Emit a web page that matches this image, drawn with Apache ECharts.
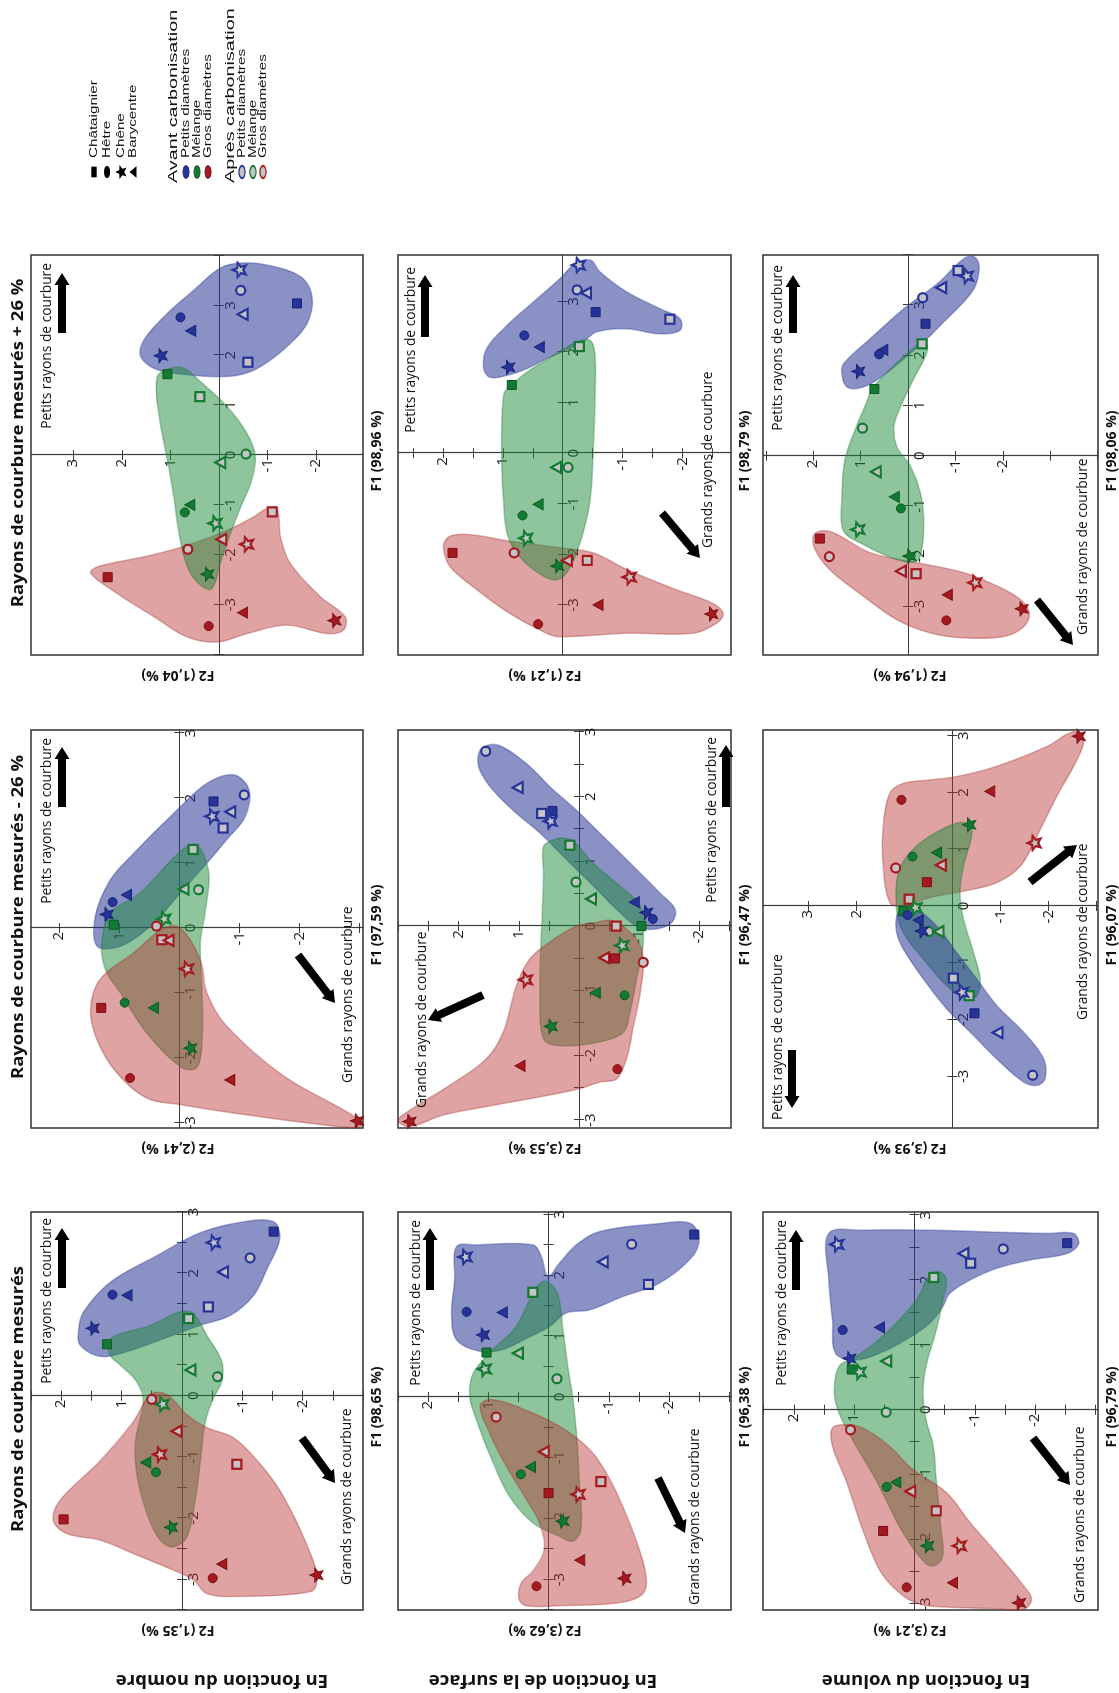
<!DOCTYPE html>
<html><head><meta charset="utf-8">
<script src="https://cdn.jsdelivr.net/npm/echarts@6/dist/echarts.min.js"></script>
<style>
html,body{margin:0;padding:0;width:1119px;height:1693px;overflow:hidden;background:#fff;}
#wrap{position:absolute;left:0;top:0;width:1693px;height:1119px;transform-origin:0 0;transform:translate(0,1693px) rotate(-90deg);}
</style></head><body><div id="wrap"></div>
<script>
// ---------- DATA ----------
const colTitles = ['Rayons de courbure mesurés', 'Rayons de courbure mesurés - 26 %', 'Rayons de courbure mesurés + 26 %'];
const rowTitles = ['En fonction du nombre', 'En fonction de la surface', 'En fonction du volume'];
const f1Names = ['F1 (98,65 %)','F1 (97,59 %)','F1 (98,96 %)','F1 (96,38 %)','F1 (96,47 %)','F1 (98,79 %)','F1 (96,79 %)','F1 (96,07 %)','F1 (98,06 %)'];
const f2Names = ['F2 (1,35 %)','F2 (2,41 %)','F2 (1,04 %)','F2 (3,62 %)','F2 (3,53 %)','F2 (1,21 %)','F2 (3,21 %)','F2 (3,93 %)','F2 (1,94 %)'];
const f1Extents = [[-3.5,3.0],[-3.08,3.05],[-4.01,4.01],[-3.5,3.04],[-3.12,3.03],[-3.99,3.92],[-3.09,3.05],[-3.91,3.10],[-3.97,4.0]];
const f2Extents = [[-3.0,2.5],[-3.06,2.47],[-2.97,3.87],[-3.03,2.5],[-2.53,3.01],[-2.81,2.75],[-3.04,2.51],[-3.03,3.94],[-4.01,3.06]];
const f1TickSteps = [0.5,1,1,0.5,0.5,1,0.5,1,1];
const f2TickSteps = [0.5,1,1,0.5,0.5,0.5,0.5,1,1];
const f1TickLabels = [-3,-2,-1,0,1,2,3];
const f2TickLabels = [[-2,-1,1,2],[-2,-1,1,2],[-2,-1,1,2,3],[-2,-1,1,2],[-2,-1,1,2],[-2,-1,1,2],[-2,-1,1,2],[-2,-1,1,2,3],[-2,-1,1,2]];
const shapeNames = ['Châtaignier','Hêtre','Chêne','Barycentre'];
const groupNames = ['Avant carbonisation','Après carbonisation'];
const diamNames = ['Petits diamètres','Mélange','Gros diamètres'];
const petitsLabel = 'Petits rayons de courbure';
const grandsLabel = 'Grands rayons de courbure';

// points: [colour (0 petits/bleu,1 mélange/vert,2 gros/rouge), shape (0 châtaignier,1 hêtre,2 chêne,3 barycentre), state (0 avant,1 après), F1, F2]
const ptsNombreMes = [[0,2,0,1.10,1.48],[0,1,0,1.65,1.15],[0,3,0,1.64,0.91],[0,0,0,2.68,-1.52],[0,2,1,2.50,-0.52],[0,1,1,2.25,-1.13],[0,3,1,2.02,-0.68],[0,0,1,1.45,-0.44],
 [1,0,0,0.84,1.24],[1,0,1,1.26,-0.11],[1,3,1,0.42,-0.14],[1,1,1,0.31,-0.59],[1,2,1,-0.14,0.33],[1,3,0,-1.09,0.60],[1,1,0,-1.25,0.43],[1,2,0,-2.15,0.18],
 [2,1,1,-0.06,0.50],[2,3,1,-0.58,0.09],[2,2,1,-0.96,0.37],[2,0,1,-1.12,-0.91],[2,0,0,-2.02,1.96],[2,3,0,-2.75,-0.66],[2,1,0,-2.98,-0.51],[2,2,0,-2.93,-2.23]];
const ptsNombreMoins = [[0,2,0,0.21,1.21],[0,1,0,0.40,1.11],[0,3,0,0.51,0.88],[0,0,0,1.95,-0.57],[0,2,1,1.72,-0.54],[0,3,1,1.79,-0.85],[0,0,1,1.54,-0.73],[0,1,1,2.05,-1.08],
 [1,0,0,0.05,1.09],[1,2,1,0.14,0.26],[1,3,1,0.60,-0.07],[1,1,1,0.59,-0.32],[1,0,1,1.21,-0.23],[1,1,0,-1.15,0.91],[1,3,0,-1.23,0.43],[1,2,0,-1.85,-0.18],
 [2,1,1,0.03,0.38],[2,0,1,-0.18,0.29],[2,3,1,-0.19,0.18],[2,2,1,-0.63,-0.12],[2,0,0,-1.23,1.30],[2,1,0,-2.31,0.82],[2,3,0,-2.34,-0.84],[2,2,0,-2.97,-2.96]];
const ptsNombrePlus = [[0,2,1,3.71,-0.42],[0,1,1,3.30,-0.45],[0,3,1,2.82,-0.49],[0,0,0,3.04,-1.61],[0,1,0,2.76,0.79],[0,3,0,2.49,0.58],[0,2,0,1.99,1.20],[0,0,1,1.86,-0.60],
 [1,0,0,1.62,1.06],[1,0,1,1.17,0.39],[1,3,1,-0.15,-0.03],[1,1,1,0.02,-0.56],[1,3,0,-1.00,0.60],[1,1,0,-1.15,0.70],[1,2,1,-1.37,0.08],[1,2,0,-2.39,0.24],
 [2,0,1,-1.14,-1.10],[2,3,1,-1.69,-0.05],[2,2,1,-1.79,-0.57],[2,1,1,-1.89,0.64],[2,0,0,-2.45,2.29],[2,3,0,-3.16,-0.49],[2,1,0,-3.43,0.21],[2,2,0,-3.32,-2.38]];
const ptsSurfaceMes = [[0,2,1,2.30,1.39],[0,1,0,1.40,1.36],[0,3,0,1.39,0.77],[0,2,0,1.02,1.09],[0,0,0,2.67,-2.42],[0,1,1,2.51,-1.38],[0,3,1,2.22,-0.90],[0,0,1,1.85,-1.66],
 [1,0,1,1.72,0.26],[1,0,0,0.73,1.03],[1,3,1,0.72,0.51],[1,2,1,0.46,1.07],[1,1,1,0.30,-0.14],[1,3,0,-1.15,0.30],[1,1,0,-1.27,0.46],[1,2,0,-2.04,-0.23],
 [2,1,1,-0.33,0.87],[2,3,1,-0.90,0.08],[2,0,1,-1.39,-0.87],[2,0,0,-1.58,0.00],[2,2,1,-1.60,-0.49],[2,3,0,-2.68,-0.52],[2,2,0,-2.98,-1.26],[2,1,0,-3.11,0.20]];
const ptsSurfaceMoins = [[0,1,1,2.70,1.55],[0,3,1,2.14,1.02],[0,0,1,1.74,0.62],[0,0,0,1.78,0.44],[0,2,1,1.62,0.48],[0,3,0,0.37,-0.92],[0,2,0,0.21,-1.12],[0,1,0,0.11,-1.23],
 [1,0,1,1.25,0.15],[1,1,1,0.68,0.05],[1,3,1,0.42,-0.20],[1,0,0,0.00,-1.04],[1,2,1,-0.30,-0.71],[1,3,0,-1.03,-0.27],[1,1,0,-1.07,-0.76],[1,2,0,-1.55,0.47],
 [2,0,1,0.00,-0.62],[2,3,1,-0.49,-0.42],[2,0,0,-0.50,-0.60],[2,1,1,-0.56,-1.07],[2,2,1,-0.83,0.89],[2,3,0,-2.16,0.98],[2,1,0,-2.21,-0.64],[2,2,0,-3.02,2.82]];
const ptsSurfacePlus = [[0,2,1,3.72,-0.26],[0,1,1,3.23,-0.24],[0,3,1,3.17,-0.39],[0,0,0,2.79,-0.55],[0,0,1,2.65,-1.79],[0,1,0,2.33,0.64],[0,3,0,2.10,0.39],[0,2,0,1.70,0.91],
 [1,0,1,2.11,-0.28],[1,0,0,1.35,0.85],[1,3,1,-0.28,0.11],[1,1,1,-0.28,-0.09],[1,3,0,-1.01,0.41],[1,1,0,-1.23,0.67],[1,2,1,-1.68,0.62],[1,2,0,-2.23,0.09],
 [2,0,0,-1.97,1.84],[2,1,1,-1.97,0.81],[2,3,1,-2.12,-0.07],[2,0,1,-2.12,-0.41],[2,2,1,-2.45,-1.11],[2,3,0,-3.00,-0.59],[2,1,0,-3.38,0.41],[2,2,0,-3.18,-2.48]];
const ptsVolumeMes = [[0,2,1,2.55,1.29],[0,1,0,1.23,1.19],[0,3,0,1.27,0.58],[0,2,0,0.79,1.08],[0,0,0,2.57,-2.53],[0,1,1,2.48,-1.47],[0,3,1,2.41,-0.81],[0,0,1,2.26,-0.93],
 [1,0,1,2.04,-0.32],[1,3,1,0.75,0.47],[1,0,0,0.62,1.04],[1,2,1,0.58,0.92],[1,1,1,-0.04,0.47],[1,3,0,-1.12,0.31],[1,1,0,-1.19,0.46],[1,2,0,-2.10,-0.21],
 [2,1,1,-0.31,1.06],[2,3,1,-1.26,0.07],[2,0,1,-1.56,-0.36],[2,0,0,-1.87,0.52],[2,2,1,-2.10,-0.74],[2,3,0,-2.67,-0.63],[2,1,0,-2.74,0.13],[2,2,0,-2.98,-1.73]];
const ptsVolumeMoins = [[2,2,0,2.99,-2.63],[2,3,0,2.02,-0.78],[2,1,0,1.87,1.06],[2,2,1,1.11,-1.70],[2,3,1,0.72,0.24],[2,1,1,0.67,1.18],[2,0,0,0.42,0.53],[2,0,1,0.12,0.90],
 [1,2,0,1.43,-0.35],[1,3,0,0.94,0.33],[1,1,0,0.87,0.83],[1,0,0,-0.09,1.02],[1,2,1,-0.03,0.78],[1,1,1,-0.45,0.49],[1,3,1,-0.45,0.29],[1,0,1,-1.58,-0.35],
 [0,1,0,-0.16,0.93],[0,3,0,-0.25,0.71],[0,2,0,-0.44,0.64],[0,0,1,-1.27,-0.02],[0,2,1,-1.52,-0.19],[0,0,0,-1.89,-0.46],[0,3,1,-2.23,-0.94],[0,1,1,-2.98,-1.67]];
const ptsVolumePlus = [[0,0,1,3.69,-1.06],[0,2,1,3.58,-1.23],[0,3,1,3.35,-0.70],[0,1,1,3.15,-0.31],[0,0,0,2.63,-0.37],[0,3,0,2.11,0.53],[0,1,0,2.02,0.61],[0,2,0,1.68,1.05],
 [1,0,1,2.23,-0.30],[1,0,0,1.33,0.71],[1,1,1,0.55,0.96],[1,3,1,-0.32,0.68],[1,3,0,-0.82,0.29],[1,1,0,-1.05,0.15],[1,2,1,-1.47,1.06],[1,2,0,-2.00,-0.03],
 [2,0,0,-1.65,1.86],[2,1,1,-2.01,1.66],[2,3,1,-2.30,0.15],[2,0,1,-2.35,-0.17],[2,2,1,-2.53,-1.41],[2,3,0,-2.77,-0.83],[2,1,0,-3.28,-0.81],[2,2,0,-3.05,-2.40]];

// group envelopes [bleu, vert, rouge] as outlines of [F1, F2]
const hullNombreMes = [
 [[1.10,1.71],[1.37,1.63],[1.85,1.19],[2.29,0.41],[2.66,-0.30],[2.84,-1.02],[2.84,-1.52],[2.56,-1.62],[2.07,-1.41],[1.64,-1.19],[1.31,-0.80],[1.15,-0.30],[0.91,0.36],[0.72,0.91],[0.64,1.35],[0.83,1.69]],
 [[0.66,1.19],[0.88,1.22],[0.99,1.08],[1.15,0.52],[1.37,0.03],[1.34,-0.19],[0.99,-0.41],[0.56,-0.66],[0.23,-0.66],[-0.04,-0.52],[-0.42,-0.39],[-1.12,-0.30],[-1.71,-0.22],[-2.31,-0.08],[-2.47,0.14],[-2.36,0.36],[-1.93,0.58],[-1.28,0.75],[-0.74,0.77],[-0.09,0.64],[0.23,0.75],[0.50,1.02]],
 [[0.02,0.52],[0.02,0.25],[-0.31,-0.08],[-0.52,-0.41],[-0.69,-0.86],[-1.12,-1.30],[-1.66,-1.69],[-2.58,-2.13],[-3.01,-2.24],[-3.20,-2.13],[-3.28,-0.86],[-3.23,-0.41],[-3.01,-0.19],[-2.85,0.14],[-2.58,0.80],[-2.36,1.35],[-2.25,1.91],[-2.04,2.13],[-1.71,2.02],[-1.06,1.35],[-0.42,0.80]]];
const hullNombreMoins = [
 [[-0.28,1.37],[0.18,1.40],[0.74,1.15],[1.15,0.76],[1.77,0.09],[2.23,-0.46],[2.36,-0.91],[2.13,-1.16],[1.72,-1.10],[1.36,-0.79],[1.00,-0.46],[0.54,-0.02],[0.03,0.48],[-0.28,0.98]],
 [[-0.23,1.29],[0.23,1.15],[0.54,0.65],[1.18,-0.02],[1.28,-0.29],[0.85,-0.49],[0.23,-0.43],[-0.23,-0.35],[-1.00,-0.38],[-1.77,-0.38],[-2.15,-0.29],[-2.15,-0.04],[-1.62,0.54],[-1.00,0.98],[-0.64,1.23]],
 [[-1.26,1.48],[-0.79,1.32],[-0.38,0.76],[0.00,0.26],[0.00,-0.02],[-0.49,-0.35],[-1.00,-0.46],[-1.51,-0.79],[-2.28,-1.74],[-2.90,-2.91],[-3.06,-3.02],[-3.05,-2.57],[-2.85,-0.91],[-2.72,-0.02],[-2.62,0.54],[-2.23,1.04],[-1.72,1.37]]];
const hullNombrePlus = [
 [[1.97,1.61],[2.31,1.54],[2.84,1.06],[3.31,0.51],[3.75,-0.03],[3.85,-0.45],[3.81,-0.99],[3.58,-1.68],[3.18,-1.92],[2.64,-1.82],[2.17,-1.40],[1.77,-0.86],[1.61,-0.45],[1.57,0.03],[1.61,0.65],[1.71,1.27]],
 [[1.57,1.27],[1.74,0.99],[1.74,0.72],[1.47,0.38],[0.97,-0.17],[0.43,-0.58],[-0.03,-0.75],[-0.50,-0.68],[-1.04,-0.45],[-1.57,-0.24],[-2.17,-0.03],[-2.68,0.14],[-2.61,0.38],[-2.24,0.65],[-1.57,0.82],[-0.90,0.92],[-0.10,1.06],[0.77,1.23]],
 [[-1.07,-1.20],[-1.64,-1.27],[-2.17,-1.47],[-2.84,-2.09],[-3.24,-2.60],[-3.51,-2.57],[-3.58,-2.23],[-3.41,-1.40],[-3.58,-0.58],[-3.75,0.03],[-3.65,0.65],[-3.24,1.34],[-2.78,2.09],[-2.37,2.64],[-2.24,2.50],[-2.01,1.40],[-1.81,0.65],[-1.51,-0.17],[-1.24,-0.72],[-1.07,-0.99]]];
const hullSurfaceMes = [
 [[1.92,1.56],[2.47,1.53],[2.50,1.20],[2.50,0.26],[2.31,0.12],[1.98,0.01],[2.20,-0.18],[2.50,-0.46],[2.72,-0.85],[2.85,-1.84],[2.86,-2.34],[2.63,-2.50],[2.31,-2.39],[1.87,-1.84],[1.65,-1.23],[1.43,-0.68],[1.38,-0.29],[1.16,-0.02],[0.99,0.31],[0.78,0.76],[0.75,1.14],[0.94,1.53],[1.38,1.61]],
 [[0.01,1.31],[0.39,1.25],[0.78,0.92],[1.16,0.54],[1.81,0.20],[1.90,0.04],[1.70,-0.15],[1.10,-0.24],[0.50,-0.32],[0.01,-0.40],[-0.54,-0.46],[-1.36,-0.51],[-2.17,-0.54],[-2.37,-0.40],[-2.29,-0.18],[-2.07,0.26],[-1.63,0.65],[-1.08,0.92],[-0.37,1.20]],
 [[-0.15,1.14],[-0.59,0.98],[-1.14,0.70],[-1.68,0.37],[-2.07,0.15],[-2.50,0.07],[-2.86,0.26],[-3.05,0.45],[-3.32,0.49],[-3.43,0.37],[-3.43,-0.18],[-3.38,-1.18],[-3.24,-1.56],[-2.94,-1.62],[-2.34,-1.45],[-1.68,-1.18],[-1.25,-0.96],[-0.86,-0.68],[-0.48,-0.18],[-0.15,0.54],[-0.04,0.98]]];
const hullSurfaceMoins = [
 [[2.62,1.68],[2.77,1.59],[2.79,1.32],[2.51,0.87],[2.15,0.48],[1.79,0.04],[1.38,-0.41],[0.92,-0.91],[0.51,-1.35],[0.26,-1.60],[0.05,-1.54],[-0.05,-1.24],[0.00,-0.96],[0.21,-0.68],[0.62,-0.24],[1.03,0.21],[1.44,0.65],[1.74,1.04],[2.10,1.43],[2.41,1.65]],
 [[0.77,0.59],[1.23,0.59],[1.33,0.43],[1.36,0.26],[1.31,0.09],[0.97,-0.24],[0.62,-0.68],[0.31,-1.02],[-0.26,-1.07],[-0.82,-0.96],[-1.33,-0.85],[-1.64,-0.74],[-1.79,-0.35],[-1.85,0.32],[-1.74,0.59],[-1.03,0.65],[0.00,0.62]],
 [[0.05,-0.24],[0.08,-0.57],[-0.21,-0.96],[-0.51,-1.07],[-1.03,-1.02],[-1.54,-0.91],[-2.05,-0.79],[-2.36,-0.63],[-2.41,-0.35],[-2.51,-0.02],[-2.62,0.54],[-2.77,1.43],[-2.92,2.26],[-3.10,2.82],[-3.00,3.01],[-2.85,2.82],[-2.46,2.15],[-2.05,1.54],[-1.64,1.26],[-0.92,1.04],[-0.51,0.82],[-0.21,0.43],[0.00,0.04]]];
const hullSurfacePlus = [
 [[1.67,1.32],[2.07,1.27],[2.53,0.93],[2.99,0.49],[3.46,0.04],[3.72,-0.18],[3.82,-0.46],[3.59,-0.62],[3.19,-1.07],[2.86,-1.62],[2.66,-1.96],[2.43,-1.96],[2.36,-1.62],[2.46,-1.07],[2.40,-0.57],[2.20,-0.34],[2.07,-0.12],[1.87,0.27],[1.67,0.60],[1.54,0.93],[1.50,1.21]],
 [[1.14,0.99],[1.27,0.93],[1.60,0.60],[1.93,0.16],[2.20,-0.23],[2.23,-0.46],[1.93,-0.54],[1.07,-0.54],[0.08,-0.51],[-0.91,-0.46],[-1.58,-0.34],[-2.11,-0.18],[-2.44,-0.01],[-2.50,0.18],[-2.30,0.49],[-1.97,0.77],[-1.58,0.93],[-0.91,0.99],[0.08,1.02]],
 [[-1.84,1.99],[-1.64,1.88],[-1.61,1.54],[-1.74,0.88],[-1.87,0.04],[-1.97,-0.51],[-2.30,-1.07],[-2.70,-1.90],[-2.97,-2.51],[-3.17,-2.68],[-3.36,-2.57],[-3.56,-2.18],[-3.56,-1.07],[-3.63,0.04],[-3.56,0.27],[-3.17,0.88],[-2.70,1.43],[-2.24,1.88]]];
const hullVolumeMes = [
 [[2.00,1.42],[2.72,1.42],[2.77,0.86],[2.77,-0.25],[2.74,-1.36],[2.72,-2.19],[2.72,-2.64],[2.56,-2.72],[2.41,-2.53],[2.31,-1.92],[2.18,-1.36],[2.00,-0.92],[1.79,-0.58],[1.59,-0.47],[1.33,-0.25],[1.08,0.14],[0.87,0.58],[0.77,0.97],[0.87,1.31],[1.38,1.36]],
 [[0.26,1.33],[0.67,1.25],[0.82,0.97],[1.13,0.53],[1.69,-0.03],[2.08,-0.25],[2.13,-0.42],[2.00,-0.53],[1.69,-0.47],[1.23,-0.36],[0.67,-0.19],[0.26,-0.14],[-0.15,-0.19],[-0.56,-0.31],[-1.08,-0.36],[-1.85,-0.44],[-2.26,-0.47],[-2.41,-0.33],[-2.36,-0.17],[-1.90,0.19],[-1.08,0.64],[-0.46,1.03],[-0.05,1.25]],
 [[-0.28,1.36],[-0.23,1.14],[-0.28,0.86],[-0.56,0.42],[-0.92,0.03],[-1.28,-0.53],[-1.74,-0.92],[-2.21,-1.36],[-2.72,-1.81],[-2.92,-1.94],[-3.08,-1.81],[-3.07,-1.36],[-3.03,-0.25],[-2.97,0.00],[-2.87,0.19],[-2.62,0.47],[-2.36,0.64],[-1.85,0.86],[-1.08,1.14],[-0.56,1.36]]];
const hullVolumeMoins = [
 [[-0.18,1.16],[-0.03,1.02],[-0.06,0.74],[-0.35,0.33],[-0.82,-0.09],[-1.29,-0.51],[-1.75,-0.92],[-2.22,-1.48],[-2.69,-1.90],[-3.04,-1.93],[-3.16,-1.76],[-3.10,-1.48],[-2.69,-0.92],[-2.22,-0.37],[-1.81,0.12],[-1.29,0.60],[-0.76,1.02],[-0.47,1.16]],
 [[-0.06,1.16],[0.58,1.13],[0.94,0.88],[1.23,0.47],[1.46,-0.09],[1.43,-0.37],[1.23,-0.40],[0.70,-0.23],[0.23,-0.16],[-0.23,-0.23],[-0.82,-0.44],[-1.29,-0.58],[-1.58,-0.51],[-1.64,-0.30],[-1.40,0.12],[-0.94,0.60],[-0.47,1.02]],
 [[1.99,1.30],[2.16,1.02],[2.22,0.47],[2.28,-0.09],[2.46,-0.92],[2.81,-1.97],[3.07,-2.52],[2.92,-2.73],[2.57,-2.59],[1.93,-2.17],[1.23,-1.76],[0.70,-1.41],[0.41,-0.92],[0.26,-0.23],[0.15,0.47],[0.00,1.02],[0.06,1.30],[0.70,1.44],[1.40,1.44]]];
const hullVolumePlus = [
 [[1.67,1.40],[1.87,1.33],[2.33,0.80],[2.93,0.09],[3.43,-0.62],[3.93,-1.18],[3.97,-1.39],[3.80,-1.50],[3.40,-1.43],[3.07,-1.18],[2.67,-0.76],[2.33,-0.40],[1.93,0.09],[1.60,0.52],[1.37,0.94],[1.37,1.29]],
 [[1.33,0.76],[1.73,0.37],[2.20,-0.19],[2.27,-0.37],[2.07,-0.40],[1.53,-0.12],[0.97,0.16],[0.57,0.30],[0.17,0.23],[-0.20,-0.05],[-0.73,-0.26],[-1.27,-0.33],[-1.80,-0.30],[-2.10,-0.19],[-2.07,0.23],[-1.77,0.94],[-1.50,1.36],[-0.90,1.40],[-0.07,1.33],[0.60,1.08],[1.07,0.87]],
 [[-1.60,2.00],[-1.50,1.86],[-1.53,1.58],[-1.93,0.80],[-2.13,-0.19],[-2.33,-1.18],[-2.60,-1.89],[-2.87,-2.38],[-3.13,-2.56],[-3.40,-2.45],[-3.60,-2.03],[-3.63,-1.18],[-3.53,-0.47],[-3.27,0.23],[-2.80,0.94],[-2.27,1.65],[-1.87,1.96]]];

const panelPoints = [ptsNombreMes, ptsNombreMoins, ptsNombrePlus, ptsSurfaceMes, ptsSurfaceMoins, ptsSurfacePlus, ptsVolumeMes, ptsVolumeMoins, ptsVolumePlus];
const panelHulls = [hullNombreMes, hullNombreMoins, hullNombrePlus, hullSurfaceMes, hullSurfaceMoins, hullSurfacePlus, hullVolumeMes, hullVolumeMoins, hullVolumePlus];

// ---------- LAYOUT & STYLE ----------
const colLeft = [83, 565, 1038], colWidth = [398, 398, 400];
const rowTop = [31, 398, 763], rowHeight = [332, 333, 335];
const rowLabelY = [222, 543, 926];
const hullOrder = [[0,1,2],[0,1,2],[2,0,1],[0,1,2],[0,1,2],[2,0,1],[0,1,2],[2,1,0],[2,0,1]];
// annotation offsets inside each panel (px): petits text [x,y,align], petits arrow [x0,y0,x1,y1], grands text [x,y], grands arrow
const annot = [
 {pt:[392,16,'right'], pa:[322,31,382,31], gt:[25,316], ga:[172,271,127,304]},
 {pt:[390,16,'right'], pa:[321,31,381,31], gt:[45,317], ga:[173,267,125,304]},
 {pt:[392,16,'right'], pa:[322,31,382,31], gt:null, ga:null},
 {pt:[390,18,'right'], pa:[320,32,382,32], gt:[5,297], ga:[132,260,77,287]},
 {pt:[391,314,'right'], pa:[321,328,383,328], gt:[20,24], ga:[133,85,108,30]},
 {pt:[388,13,'right'], pa:[318,27,380,27], gt:[107,310], ga:[142,264,97,302]},
 {pt:[390,19,'right'], pa:[320,33,380,33], gt:[7,317], ga:[172,270,125,307]},
 {pt:[8,15,'left'], pa:[78,29,20,29], gt:[108,320], ga:[246,267,283,314]},
 {pt:[390,15,'right'], pa:[322,30,380,30], gt:[20,320], ga:[55,274,10,310]}
];
const COLORS = ['#26339a', '#127a32', '#a5191f'];
const DARK = ['#1a2472', '#0b5a22', '#7a0f14'];
const HULL_FILL = ['rgba(40,55,150,0.55)', 'rgba(30,140,60,0.5)', 'rgba(185,50,50,0.45)'];
const HULL_STROKE = ['rgba(40,55,150,0.35)', 'rgba(30,120,50,0.35)', 'rgba(160,45,45,0.35)'];
const OPEN_FILL = '#c4c4c4';
const AXIS_COLOR = '#3a3a3a';
const STAR = 'path://M0,-1L0.2645,-0.364L0.951,-0.309L0.428,0.139L0.588,0.809L0,0.45L-0.588,0.809L-0.428,0.139L-0.951,-0.309L-0.2645,-0.364Z';
const SHAPES = ['rect', 'circle', STAR, 'triangle'];
const SIZES = [[9,9],[9,9],[14,13],[11,10]];
const FONT = "'Open Sans', sans-serif";

function multiples(min, max, step) {
  const a = [];
  for (let k = Math.ceil(min / step - 1e-9); k * step <= max + 1e-9; k++) a.push(+(k * step).toFixed(3));
  return a;
}
function arrowPts(x0, y0, x1, y1) {
  const dx = x1 - x0, dy = y1 - y0, L = Math.hypot(dx, dy), ux = dx / L, uy = dy / L, nx = -uy, ny = ux;
  const w = 4, hw = 7.5, hl = 12, bx = x1 - ux * hl, by = y1 - uy * hl;
  return [[x0 + nx * w, y0 + ny * w], [bx + nx * w, by + ny * w], [bx + nx * hw, by + ny * hw], [x1, y1],
          [bx - nx * hw, by - ny * hw], [bx - nx * w, by - ny * w], [x0 - nx * w, y0 - ny * w]];
}
function starPts(cx, cy, rx, ry) {
  const p = [];
  for (let i = 0; i < 10; i++) {
    const a = i * Math.PI / 5, r = i % 2 ? 0.45 : 1;
    p.push([cx + Math.sin(a) * rx * r, cy - Math.cos(a) * ry * r]);
  }
  return p;
}
function txt(x, y, text, font, opts) {
  opts = opts || {};
  return Object.assign({
    type: 'text', x: x, y: y, z: 20, silent: true,
    style: { text: text, font: font, fill: opts.fill || '#111',
      textAlign: opts.align || 'center', align: opts.align || 'center',
      textVerticalAlign: 'middle', verticalAlign: 'middle' }
  }, opts.el || {});
}

const grids = [], xAxes = [], yAxes = [], series = [], elements = [];

for (let p = 0; p < 9; p++) {
  const r = Math.floor(p / 3), c = p % 3;
  const L = colLeft[c], T = rowTop[r], W = colWidth[c], H = rowHeight[r];
  grids.push({ left: L, top: T, width: W, height: H, show: true, borderColor: '#333', borderWidth: 1.5, backgroundColor: 'rgba(0,0,0,0)' });
  const [x0, x1] = f1Extents[p], [y0, y1] = f2Extents[p];
  // the axes cross at the origin: shift each axis from the grid edge to the zero of the other one
  const fromBottom = H * (0 - y0) / (y1 - y0), fromTop = H - fromBottom;
  const fromLeft = W * (0 - x0) / (x1 - x0), fromRight = W - fromLeft;
  const lineStyle = { color: AXIS_COLOR, width: 1.2 };
  const xTicks = multiples(x0, x1, f1TickSteps[p]), yTicks = multiples(y0, y1, f2TickSteps[p]);
  // main axes (line, ticks on one side, labels)
  xAxes.push({
    type: 'value', gridIndex: p, position: 'bottom', offset: -fromBottom, min: x0, max: x1,
    splitLine: { show: false }, axisLine: { onZero: false, lineStyle: lineStyle },
    axisTick: { show: true, length: 5, customValues: xTicks, lineStyle: { color: AXIS_COLOR } },
    axisLabel: { customValues: f1TickLabels.filter(v => v >= x0 - 1e-6 && v <= x1 + 1e-6), fontSize: 15, color: '#1a1a1a', margin: 4, fontFamily: FONT }
  });
  yAxes.push({
    type: 'value', gridIndex: p, position: 'left', offset: -fromLeft, min: y0, max: y1,
    splitLine: { show: false }, axisLine: { onZero: false, lineStyle: lineStyle },
    axisTick: { show: true, length: 5, customValues: yTicks, lineStyle: { color: AXIS_COLOR } },
    axisLabel: { customValues: f2TickLabels[p].filter(v => v >= y0 && v <= y1), fontSize: 15, color: '#1a1a1a', margin: 4, fontFamily: FONT }
  });
  // twin axes on the same lines, giving the ticks on the other side (crossing ticks)
  xAxes.push({
    type: 'value', gridIndex: p, position: 'top', offset: -fromTop, min: x0, max: x1,
    splitLine: { show: false }, axisLine: { show: false, onZero: false }, axisLabel: { show: false },
    axisTick: { show: true, length: 5, customValues: xTicks, lineStyle: { color: AXIS_COLOR } }
  });
  yAxes.push({
    type: 'value', gridIndex: p, position: 'right', offset: -fromRight, min: y0, max: y1,
    splitLine: { show: false }, axisLine: { show: false, onZero: false }, axisLabel: { show: false },
    axisTick: { show: true, length: 5, customValues: yTicks, lineStyle: { color: AXIS_COLOR } }
  });
  const xi = 2 * p, yi = 2 * p;
  // envelopes
  hullOrder[p].forEach((g, k) => {
    const hull = panelHulls[p][g];
    series.push({
      type: 'custom', xAxisIndex: xi, yAxisIndex: yi, silent: true, z: 2 + k * 0.01,
      data: [hull[0]],
      renderItem: function (params, api) {
        return { type: 'polygon', shape: { points: hull.map(v => api.coord(v)), smooth: 0.35 },
          style: { fill: HULL_FILL[g], stroke: HULL_STROKE[g], lineWidth: 1.5 } };
      }
    });
  });
  // points
  series.push({
    type: 'scatter', xAxisIndex: xi, yAxisIndex: yi, silent: true, z: 5, clip: false,
    data: panelPoints[p].map(([col, sh, st, f1, f2]) => ({
      value: [f1, f2], symbol: SHAPES[sh], symbolSize: SIZES[sh],
      itemStyle: st === 0 ? { color: COLORS[col], borderColor: DARK[col], borderWidth: 1, opacity: 1 }
                          : { color: OPEN_FILL, borderColor: COLORS[col], borderWidth: 2.2, opacity: 1 }
    }))
  });
  // axis names
  elements.push(txt(L + W / 2 + 4, T + H + 14, f1Names[p], "bold 14px " + FONT));
  elements.push(txt(L - 20, T + 147, f2Names[p], "bold 14px " + FONT, { el: { rotation: Math.PI / 2 } }));
  // annotations
  const a = annot[p];
  elements.push(txt(L + a.pt[0], T + a.pt[1], petitsLabel, "13.8px " + FONT, { align: a.pt[2] }));
  elements.push({ type: 'polygon', z: 20, silent: true, shape: { points: arrowPts(L + a.pa[0], T + a.pa[1], L + a.pa[2], T + a.pa[3]) }, style: { fill: '#000' } });
  if (a.gt) {
    elements.push(txt(L + a.gt[0], T + a.gt[1], grandsLabel, "13.8px " + FONT, { align: 'left' }));
    elements.push({ type: 'polygon', z: 20, silent: true, shape: { points: arrowPts(L + a.ga[0], T + a.ga[1], L + a.ga[2], T + a.ga[3]) }, style: { fill: '#000' } });
  }
}

// column titles and row labels
for (let c = 0; c < 3; c++) elements.push(txt(colLeft[c] + colWidth[c] / 2 + 12, 18, colTitles[c], "bold 16px " + FONT, { el: { scaleX: 1.15 } }));
for (let r = 0; r < 3; r++) elements.push(txt(13, rowLabelY[r], rowTitles[r], "bold 18.6px " + FONT, { el: { rotation: Math.PI / 2 } }));

// legend
const LF = "'Liberation Sans', Arial, sans-serif";
const shapeY = [94, 107, 121, 133];
const symX = 1521, textX = 1535, SX = 1.52;
function legText(x, y, t, size) {
  return { type: 'text', x: x, y: y, scaleX: SX, z: 20, silent: true,
    style: { text: t, font: size + 'px ' + LF, fill: '#111', textAlign: 'left', align: 'left', textVerticalAlign: 'middle', verticalAlign: 'middle' } };
}
elements.push({ type: 'rect', z: 20, silent: true, shape: { x: symX - 5.3, y: shapeY[0] - 2.7, width: 10.7, height: 5.4 }, style: { fill: '#000' } });
elements.push({ type: 'circle', z: 20, silent: true, x: symX, y: shapeY[1], scaleX: 2.0, shape: { cx: 0, cy: 0, r: 3.1 }, style: { fill: '#000' } });
elements.push({ type: 'polygon', z: 20, silent: true, shape: { points: starPts(symX, shapeY[2] + 0.5, 7.5, 6.2) }, style: { fill: '#000' } });
elements.push({ type: 'polygon', z: 20, silent: true, shape: { points: [[symX - 5.8, shapeY[3] + 3.6], [symX + 5.8, shapeY[3] + 3.6], [symX, shapeY[3] - 3.6]] }, style: { fill: '#000' } });
shapeNames.forEach((n, i) => elements.push(legText(textX, shapeY[i], n, 10)));
const groupY = [173, 230], itemY = [[186, 197, 208], [242, 253, 263]];
groupNames.forEach((g, gi) => {
  elements.push(legText(1510, groupY[gi], g, 13));
  diamNames.forEach((d, di) => {
    elements.push({ type: 'circle', z: 20, silent: true, x: symX, y: itemY[gi][di], scaleX: 2.0, shape: { cx: 0, cy: 0, r: 3.1 },
      style: gi === 0 ? { fill: COLORS[di], stroke: DARK[di], lineWidth: 0.6 } : { fill: OPEN_FILL, stroke: COLORS[di], lineWidth: 1.1 } });
    elements.push(legText(textX, itemY[gi][di], d, 10));
  });
});

const chart = echarts.init(document.getElementById('wrap'), null, { renderer: 'canvas', width: 1693, height: 1119 });
chart.setOption({
  animation: false,
  backgroundColor: '#fff',
  grid: grids, xAxis: xAxes, yAxis: yAxes, series: series,
  graphic: { elements: elements }
});
</script></body></html>
